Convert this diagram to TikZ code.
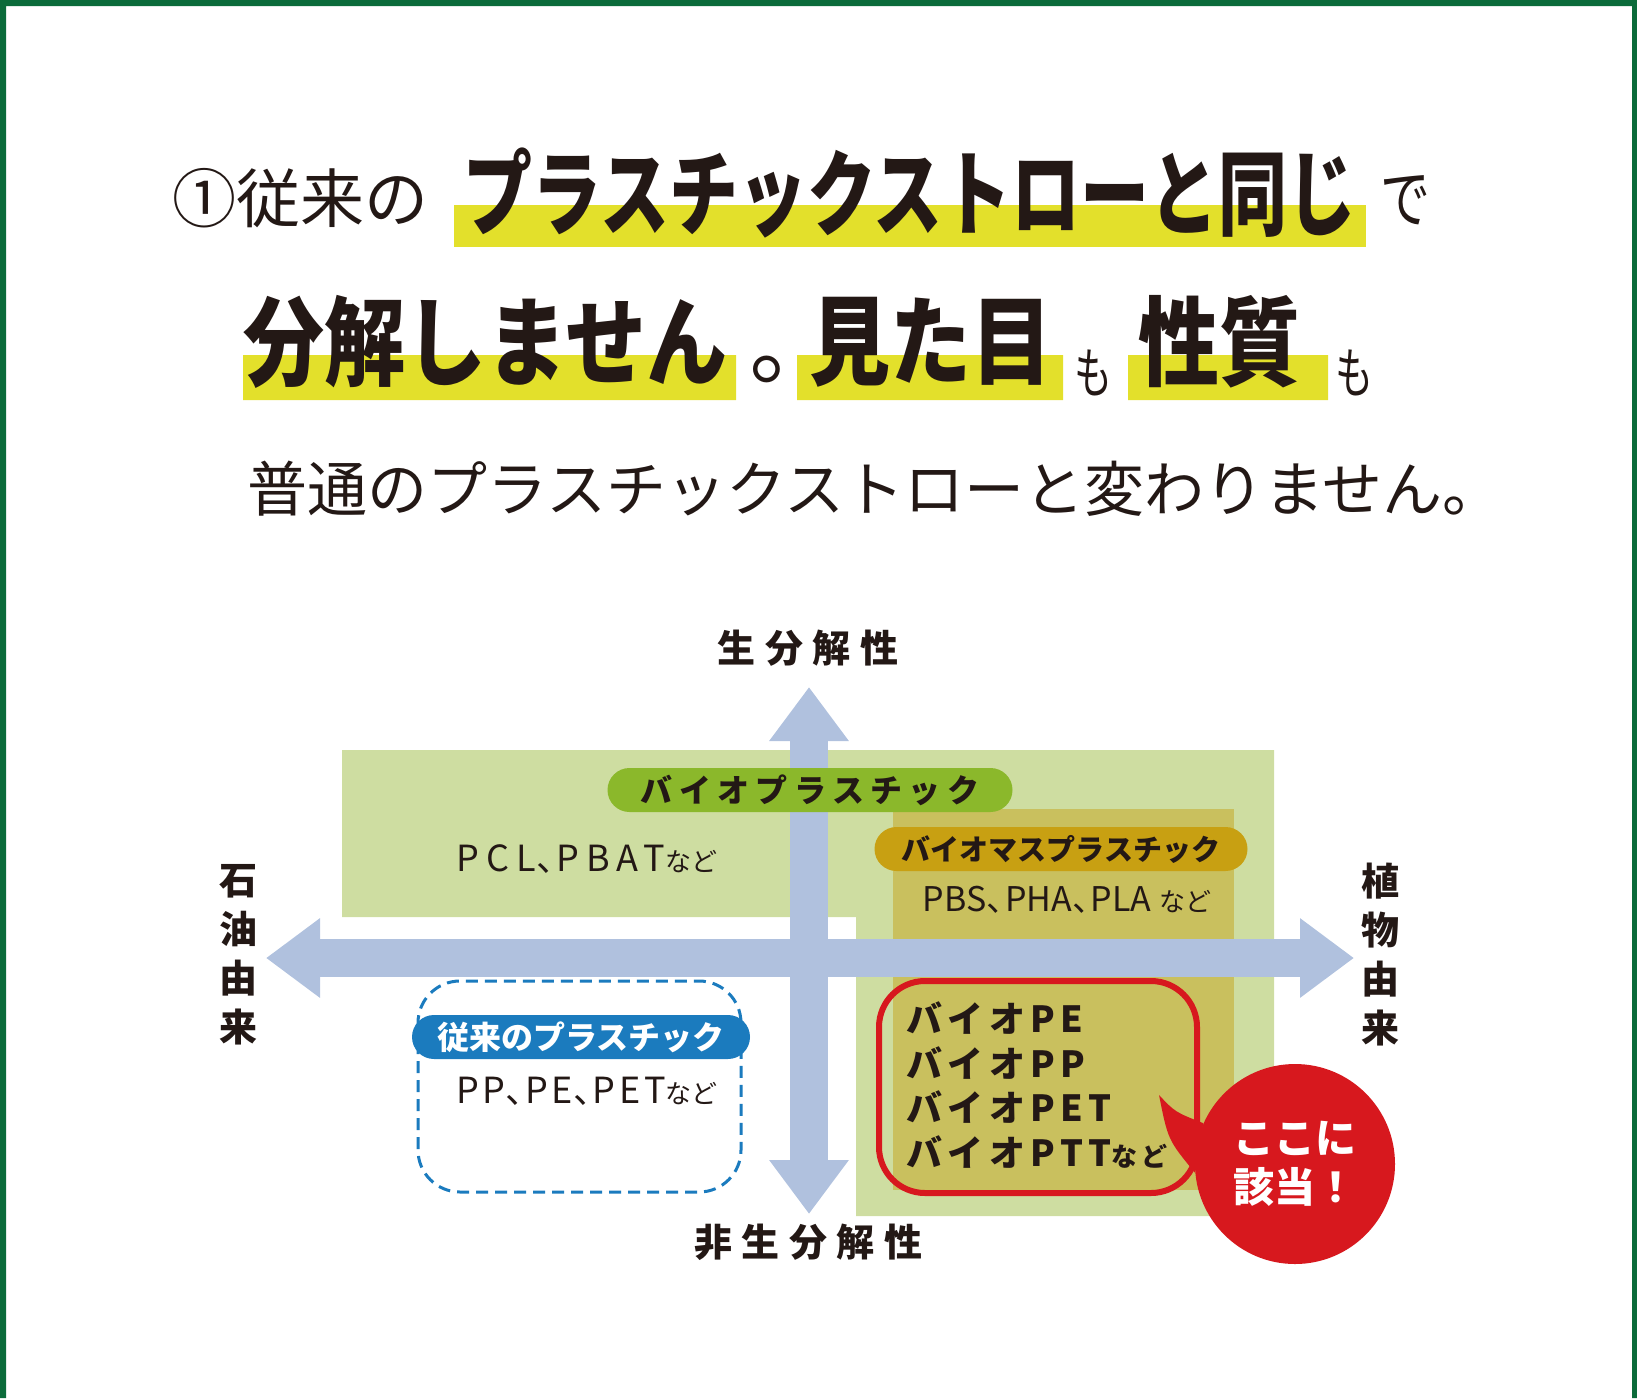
\documentclass[tikz,border=0pt]{standalone}
\usepackage{fontspec}
\usepackage{graphicx}
\usetikzlibrary{arrows.meta}
\setmainfont{Noto Sans CJK JP}
\definecolor{frame}{HTML}{0B6B3A}
\definecolor{marker}{HTML}{E3E02B}
\definecolor{ink}{HTML}{231815}
\definecolor{biobg}{HTML}{CEDDA1}
\definecolor{massbg}{HTML}{C9C05E}
\definecolor{biogreen}{HTML}{8BB82B}
\definecolor{massgold}{HTML}{C8A012}
\definecolor{oldblue}{HTML}{1B7BBE}
\definecolor{axisblue}{HTML}{B0C1DE}
\definecolor{alert}{HTML}{D7181E}
\newcommand{\fsz}[1]{\fontsize{#1}{#1}\selectfont}
\newcommand{\tenten}{\makebox[.55em][l]{、}}
\newcommand{\nado}{{\fsz{13}\addfontfeatures{LetterSpace=0}など}}

\begin{document}
\begin{tikzpicture}[
  x=.5pt,y=-.5pt,
  text=ink,
  every node/.style={inner sep=0pt},
  lead/.style={anchor=west,font=\fsz{32}},
  head/.style={anchor=west,font=\bfseries\fsz{#1}},
  particle/.style={font=\fsz{#1}},
  pill/.style={fill=#1,rounded corners=11pt,minimum height=22pt,font=\bfseries\fsz{16}},
  axis/.style={draw=axisblue,line width=19pt,
    {Triangle[length=27pt,width=38pt]}-{Triangle[length=27pt,width=38pt]}},
  axislab/.style={font=\bfseries\fontsize{19}{24.5}\selectfont\addfontfeatures{LetterSpace=25},align=center},
  examples/.style={font=\fsz{18}}
]
\useasboundingbox (0,0) rectangle (1637,1398);
\fill[frame] (0,0) rectangle (1637,6) (0,0) rectangle (6,1398) (1632,0) rectangle (1637,1398);

% title
\fill[marker] (454,205) rectangle (1366,247);
\node[lead] (number) at (172,198) {①従来の};
\node[head=34.5] (same) at (463,193) {\scalebox{1}[1.35]{プラスチックストローと同じ}};
\node[particle=25] (de) at (1405,200) {\scalebox{1}[1.3]{で}};

\fill[marker] (243,355) rectangle (736,400) (797,355) rectangle (1063,400)
  (1128,355) rectangle (1328,400);
\node[head=40.5] (decomp) at (243,342) {\scalebox{1}[1.2]{分解しません}};
\node[anchor=base west,font=\fsz{44}] (maru) at (750,377) {｡};
\node[head=40.5] (look) at (809,342) {\scalebox{1}[1.2]{見た目}};
\node[particle=19] (mo1) at (1093,373) {\scalebox{1}[1.45]{も}};
\node[head=40.5] (nature) at (1138,342) {\scalebox{1}[1.2]{性質}};
\node[particle=19] (mo2) at (1354,373) {\scalebox{1}[1.45]{も}};

\node[anchor=west,font=\fsz{30}] (plain) at (247,489) {普通のプラスチックストローと変わりません。};

% map
\fill[biobg] (342,750) rectangle (1274,917) (856,917) rectangle (1274,1216);
\fill[massbg] (893,809) rectangle (1234,1190);

\coordinate (bio) at (809,687);
\coordinate (nonbio) at (809,1214);
\coordinate (petro) at (266,958);
\coordinate (plant) at (1354,958);
\draw[axis] (nonbio) -- (bio);
\draw[axis] (petro) -- (plant);

\node[axislab] (biolab) at (808,648) {生分解性};
\node[axislab] (nonbiolab) at (808,1242) {非生分解性};
\node[axislab] (petrolab) at (238,955) {石\\油\\由\\来};
\node[axislab] (plantlab) at (1380,955) {植\\物\\由\\来};

\node[pill=biogreen,minimum width=202.5pt] (biopill) at (810,790)
  {\addfontfeatures{LetterSpace=20}バイオプラスチック};
\node[examples] (pcl) at (587,859)
  {\addfontfeatures{LetterSpace=20}PCL\tenten PBAT\nado};

\node[pill=massgold,minimum width=186.5pt,font=\bfseries\fsz{14.5}] (masspill) at (1061,849)
  {バイオマスプラスチック};
\node[examples,font=\fsz{17}] (pbs) at (1067,900) {PBS\tenten PHA\tenten PLA \nado};

\draw[oldblue,line width=1.5pt,dash pattern=on 6pt off 3.5pt,rounded corners=21pt]
  (418,981) rectangle (741,1192);
\node[pill=oldblue,text=white,minimum width=169pt] (oldpill) at (581,1037) {従来のプラスチック};
\node[examples] (pp) at (587,1091)
  {\addfontfeatures{LetterSpace=10}PP\tenten PE\tenten PET\nado};

\draw[alert,line width=3pt,rounded corners=23pt] (879,981) rectangle (1197,1193);
\node[anchor=west,align=left,font=\bfseries\fontsize{18}{22.3}\selectfont\addfontfeatures{LetterSpace=15}]
  (biolist) at (906,1085) {バイオPE\\バイオPP\\バイオPET\\バイオPTT{\fsz{13}など}};

\node[circle,fill=alert,minimum size=100pt,text=white,align=center,
  font=\bfseries\fontsize{20.5}{24.5}\selectfont] (here) at (1295,1164) {ここに\\該当！};
\coordinate (tip) at (1159,1095);
\fill[alert] (tip) .. controls (1175,1112) .. (here.156) -- (here.185)
  .. controls (1168,1140) .. (tip);

\end{tikzpicture}
\end{document}
